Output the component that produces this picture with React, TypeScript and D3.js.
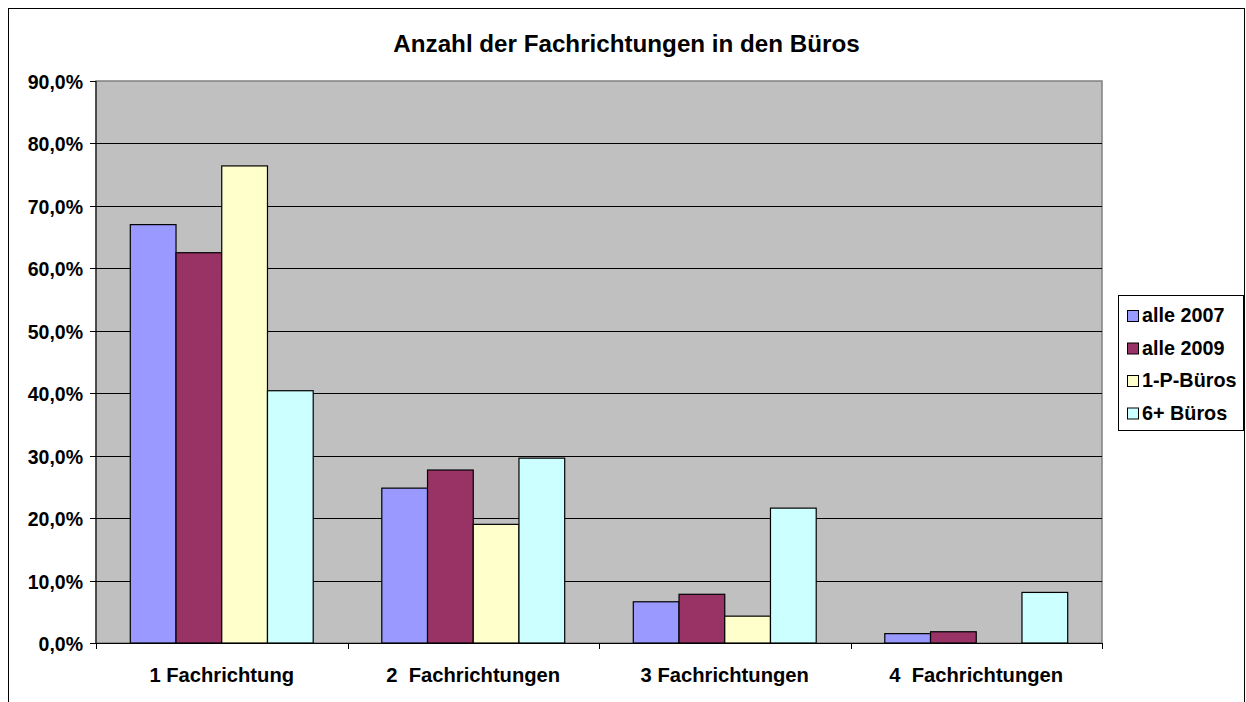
import React from "react";
import * as d3 from "d3";

const categories = ["1 Fachrichtung", "2  Fachrichtungen", "3 Fachrichtungen", "4  Fachrichtungen"];
const seriesNames = ["alle 2007", "alle 2009", "1-P-Büros", "6+ Büros"];
const seriesColors = ["#9999FF", "#993366", "#FFFFCC", "#CCFFFF"];
const alle2007 = [67.0, 24.8, 6.6, 1.5];
const alle2009 = [62.5, 27.7, 7.8, 1.8];
const einPBueros = [76.4, 19.0, 4.3, 0];
const sechsPlusBueros = [40.4, 29.6, 21.6, 8.1];
const yTicks = [0, 10, 20, 30, 40, 50, 60, 70, 80, 90];
const title = "Anzahl der Fachrichtungen in den Büros";

const seriesValues = [alle2007, alle2009, einPBueros, sechsPlusBueros];

const FONT = "'Liberation Sans', Arial, Helvetica, sans-serif";

export default function App() {
  const left = 96, right = 1102, top = 81, bottom = 643;
  const y = d3.scaleLinear().domain([0, 90]).range([bottom, top]);
  const x = d3.scaleBand<string>().domain(categories).range([left, right]).padding(0);
  const xs = d3
    .scaleBand<string>()
    .domain(seriesNames)
    .range([0, x.bandwidth()])
    .paddingInner(0)
    .paddingOuter(0.75);
  const fmt = (v: number) => d3.format(".1f")(v).replace(".", ",") + "%";

  const legX = 1118.5, legY = 295.5, legW = 125, legH = 135;
  const legRows = [322, 354.5, 387, 419.5];

  return (
    <svg
      width={1246}
      height={702}
      style={{ position: "absolute", left: 0, top: 0, fontFamily: FONT }}
    >
      <rect x={0} y={0} width={1246} height={702} fill="#FFFFFF" />
      <rect x={8.5} y={8.5} width={1236} height={710} fill="#FFFFFF" stroke="#000000" strokeWidth={1} />
      <text x={626.5} y={52} textAnchor="middle" fontSize={24.2} fontWeight="bold" fill="#000">
        {title}
      </text>
      {/* plot area */}
      <rect x={left} y={top} width={right - left} height={bottom - top} fill="#C0C0C0" stroke="#808080" strokeWidth={1.5} />
      {yTicks.filter((t) => t > 0 && t < 90).map((t) => (
        <line key={"g" + t} x1={left} x2={right} y1={Math.round(y(t)) + 0.5} y2={Math.round(y(t)) + 0.5} stroke="#000" strokeWidth={1} />
      ))}
      {/* bars */}
      {seriesValues.map((vals, si) =>
        vals.map((v, ci) => {
          if (v <= 0) return null;
          const bx = (x(categories[ci]) as number) + (xs(seriesNames[si]) as number);
          return (
            <rect
              key={si + "-" + ci}
              x={bx}
              y={y(v)}
              width={xs.bandwidth()}
              height={bottom - y(v)}
              fill={seriesColors[si]}
              stroke="#000"
              strokeWidth={1.2}
            />
          );
        })
      )}
      {/* y axis */}
      <line x1={left} x2={left} y1={top} y2={bottom} stroke="#000" strokeWidth={1} />
      {yTicks.map((t) => (
        <g key={"t" + t}>
          <line x1={left - 6} x2={left} y1={Math.round(y(t)) + 0.5} y2={Math.round(y(t)) + 0.5} stroke="#000" strokeWidth={1} />
          <text x={83} y={y(t) + 8} textAnchor="end" fontSize={19.5} fontWeight="bold" fill="#000">
            {fmt(t)}
          </text>
        </g>
      ))}
      {/* x axis */}
      <line x1={left} x2={right} y1={bottom + 0.5} y2={bottom + 0.5} stroke="#000" strokeWidth={1} />
      {[...categories.map((c) => x(c) as number), right].map((px, i) => (
        <line key={"xt" + i} x1={Math.round(px) + 0.5} x2={Math.round(px) + 0.5} y1={bottom} y2={bottom + 6} stroke="#000" strokeWidth={1} />
      ))}
      {categories.map((c) => (
        <text
          key={c}
          x={(x(c) as number) + x.bandwidth() / 2}
          y={682}
          textAnchor="middle"
          fontSize={20.2}
          fontWeight="bold"
          fill="#000"
          style={{ whiteSpace: "pre" }}
        >
          {c}
        </text>
      ))}
      {/* legend */}
      <rect x={legX} y={legY} width={legW} height={legH} fill="#FFFFFF" stroke="#000" strokeWidth={1} />
      {seriesNames.map((s, i) => (
        <g key={s}>
          <rect x={1127.5} y={legRows[i] - 11.5} width={11} height={11} fill={seriesColors[i]} stroke="#000" strokeWidth={1} />
          <text x={1142} y={legRows[i]} fontSize={19.8} fontWeight="bold" fill="#000">
            {s}
          </text>
        </g>
      ))}
    </svg>
  );
}
